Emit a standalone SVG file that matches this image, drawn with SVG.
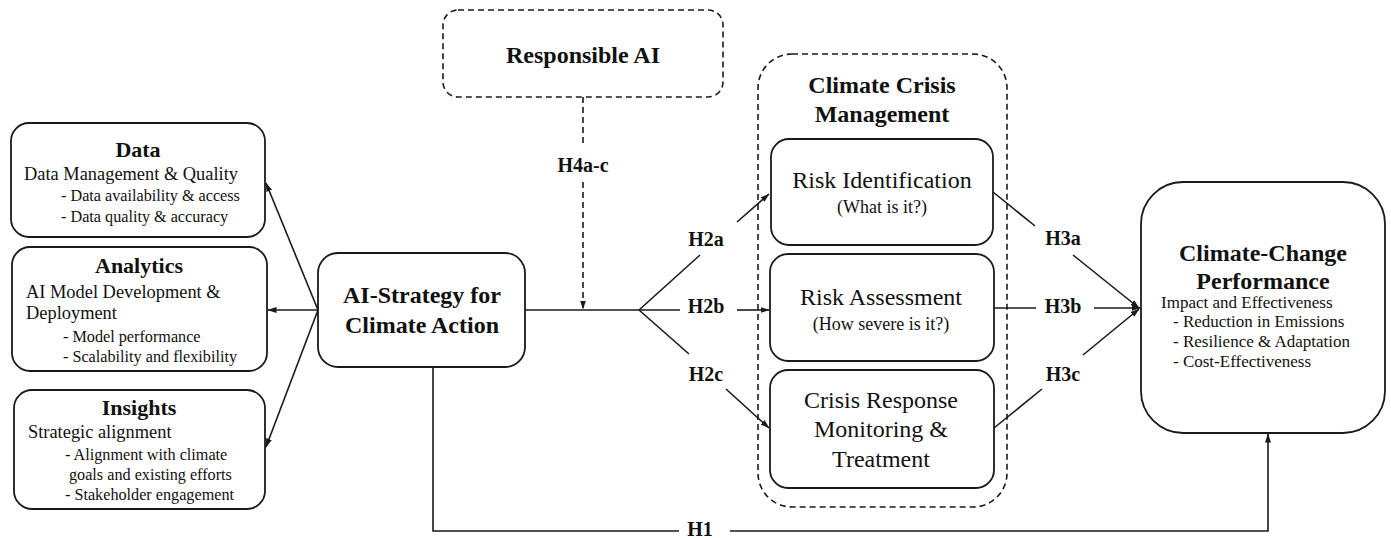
<svg xmlns="http://www.w3.org/2000/svg" width="1391" height="538" viewBox="0 0 1391 538">
<defs>
<marker id="ah" markerWidth="9" markerHeight="7" refX="8.5" refY="3.5" orient="auto" markerUnits="userSpaceOnUse">
<path d="M0,0.5 L9,3.5 L0,6.5 z" fill="#1a1a1a"/>
</marker>
<style>
.box{fill:#fff;stroke:#1a1a1a;stroke-width:1.8}
.dbox{fill:none;stroke:#1a1a1a;stroke-width:1.6;stroke-dasharray:6,4}
.ln{fill:none;stroke:#1a1a1a;stroke-width:1.6}
.dl{fill:none;stroke:#1a1a1a;stroke-width:1.6;stroke-dasharray:6,4}
text{font-family:"Liberation Serif","Times New Roman",serif;fill:#111}
.t{font-weight:bold;font-size:22px;text-anchor:middle}
.tb{font-weight:bold;font-size:24px;text-anchor:middle}
.h{font-weight:bold;font-size:20px;text-anchor:middle}
.s18{font-size:18.4px}
.s15{font-size:16.2px}
.s17{font-size:17px}
.r24{font-size:24px;text-anchor:middle}
.r18{font-size:18px;text-anchor:middle}
</style>
</defs>

<g id="data">
<rect class="box" x="11" y="123" width="254" height="114" rx="18"/>
<text class="t" x="138" y="157">Data</text>
<text class="s18" x="24" y="180">Data Management &amp; Quality</text>
<text class="s15" x="61" y="201">- Data availability &amp; access</text>
<text class="s15" x="61" y="222">- Data quality &amp; accuracy</text>
</g>

<g id="analytics">
<rect class="box" x="12" y="247" width="255" height="124" rx="18"/>
<text class="t" x="139" y="273">Analytics</text>
<text class="s18" x="26" y="298">AI Model Development &amp;</text>
<text class="s18" x="26" y="319">Deployment</text>
<text class="s15" x="63" y="342">- Model performance</text>
<text class="s15" x="63" y="362">- Scalability and flexibility</text>
</g>

<g id="insights">
<rect class="box" x="14" y="390" width="251" height="119" rx="18"/>
<text class="t" x="139" y="415">Insights</text>
<text class="s18" x="28" y="438">Strategic alignment</text>
<text class="s15" x="65" y="460">- Alignment with climate</text>
<text class="s15" x="69" y="480">goals and existing efforts</text>
<text class="s15" x="65" y="500">- Stakeholder engagement</text>
</g>

<g id="ai-strategy">
<rect class="box" x="318" y="253" width="207" height="114" rx="20"/>
<text class="tb" x="422" y="303">AI-Strategy for</text>
<text class="tb" x="422" y="333">Climate Action</text>
</g>

<g id="responsible-ai">
<rect class="dbox" x="443" y="10" width="280" height="87" rx="15"/>
<text class="tb" x="583" y="63">Responsible AI</text>
</g>

<g id="climate-crisis-management">
<rect class="dbox" x="758" y="54" width="249" height="453" rx="34"/>
<text class="tb" x="882" y="93">Climate Crisis</text>
<text class="tb" x="882" y="122">Management</text>
</g>

<g id="risk-identification">
<rect class="box" x="771" y="139" width="222" height="106" rx="18"/>
<text class="r24" x="882" y="188">Risk Identification</text>
<text class="r18" x="882" y="213">(What is it?)</text>
</g>

<g id="risk-assessment">
<rect class="box" x="770" y="254" width="224" height="107" rx="18"/>
<text class="r24" x="881" y="305">Risk Assessment</text>
<text class="r18" x="881" y="330">(How severe is it?)</text>
</g>

<g id="crisis-response">
<rect class="box" x="770" y="370" width="224" height="118" rx="18"/>
<text class="r24" x="881" y="408">Crisis Response</text>
<text class="r24" x="881" y="437">Monitoring &amp;</text>
<text class="r24" x="881" y="467">Treatment</text>
</g>

<g id="climate-change-performance">
<rect class="box" x="1141" y="182" width="244" height="251" rx="42"/>
<text class="tb" x="1263" y="261">Climate-Change</text>
<text class="tb" x="1263" y="289">Performance</text>
<text class="s17" x="1161" y="308">Impact and Effectiveness</text>
<text class="s17" x="1173" y="327">- Reduction in Emissions</text>
<text class="s17" x="1173" y="347">- Resilience &amp; Adaptation</text>
<text class="s17" x="1173" y="367">- Cost-Effectiveness</text>
</g>

<g id="connectors">
<line class="ln" x1="318" y1="310" x2="266" y2="183" marker-end="url(#ah)"/>
<line class="ln" x1="318" y1="310" x2="268" y2="310" marker-end="url(#ah)"/>
<line class="ln" x1="318" y1="310" x2="266" y2="447" marker-end="url(#ah)"/>
<line class="ln" x1="525" y1="310" x2="639" y2="310"/>
<line class="dl" x1="583" y1="97" x2="583" y2="146"/>
<line class="dl" x1="583" y1="182" x2="583" y2="309" marker-end="url(#ah)"/>
<text class="h" x="583" y="172">H4a-c</text>
<line class="ln" x1="639" y1="310" x2="700" y2="255"/>
<line class="ln" x1="737" y1="222" x2="769" y2="194" marker-end="url(#ah)"/>
<text class="h" x="706" y="246">H2a</text>
<line class="ln" x1="639" y1="310" x2="680" y2="310"/>
<line class="ln" x1="737" y1="310" x2="769" y2="310" marker-end="url(#ah)"/>
<text class="h" x="706" y="313">H2b</text>
<line class="ln" x1="639" y1="310" x2="689" y2="354"/>
<line class="ln" x1="726" y1="389" x2="769" y2="428" marker-end="url(#ah)"/>
<text class="h" x="706" y="381">H2c</text>
<line class="ln" x1="993" y1="192" x2="1035" y2="226"/>
<line class="ln" x1="1073" y1="255" x2="1139" y2="308" marker-end="url(#ah)"/>
<text class="h" x="1063" y="245">H3a</text>
<line class="ln" x1="994" y1="308" x2="1036" y2="308"/>
<line class="ln" x1="1094" y1="308" x2="1140" y2="308" marker-end="url(#ah)"/>
<text class="h" x="1063" y="313">H3b</text>
<line class="ln" x1="994" y1="428" x2="1042" y2="389"/>
<line class="ln" x1="1083" y1="355" x2="1139" y2="309" marker-end="url(#ah)"/>
<text class="h" x="1063" y="381">H3c</text>
<polyline class="ln" points="433,367 433,531 679,531"/>
<polyline class="ln" points="730,531 1268,531 1268,434" marker-end="url(#ah)"/>
<text class="h" x="700" y="536">H1</text>
</g>
</svg>
